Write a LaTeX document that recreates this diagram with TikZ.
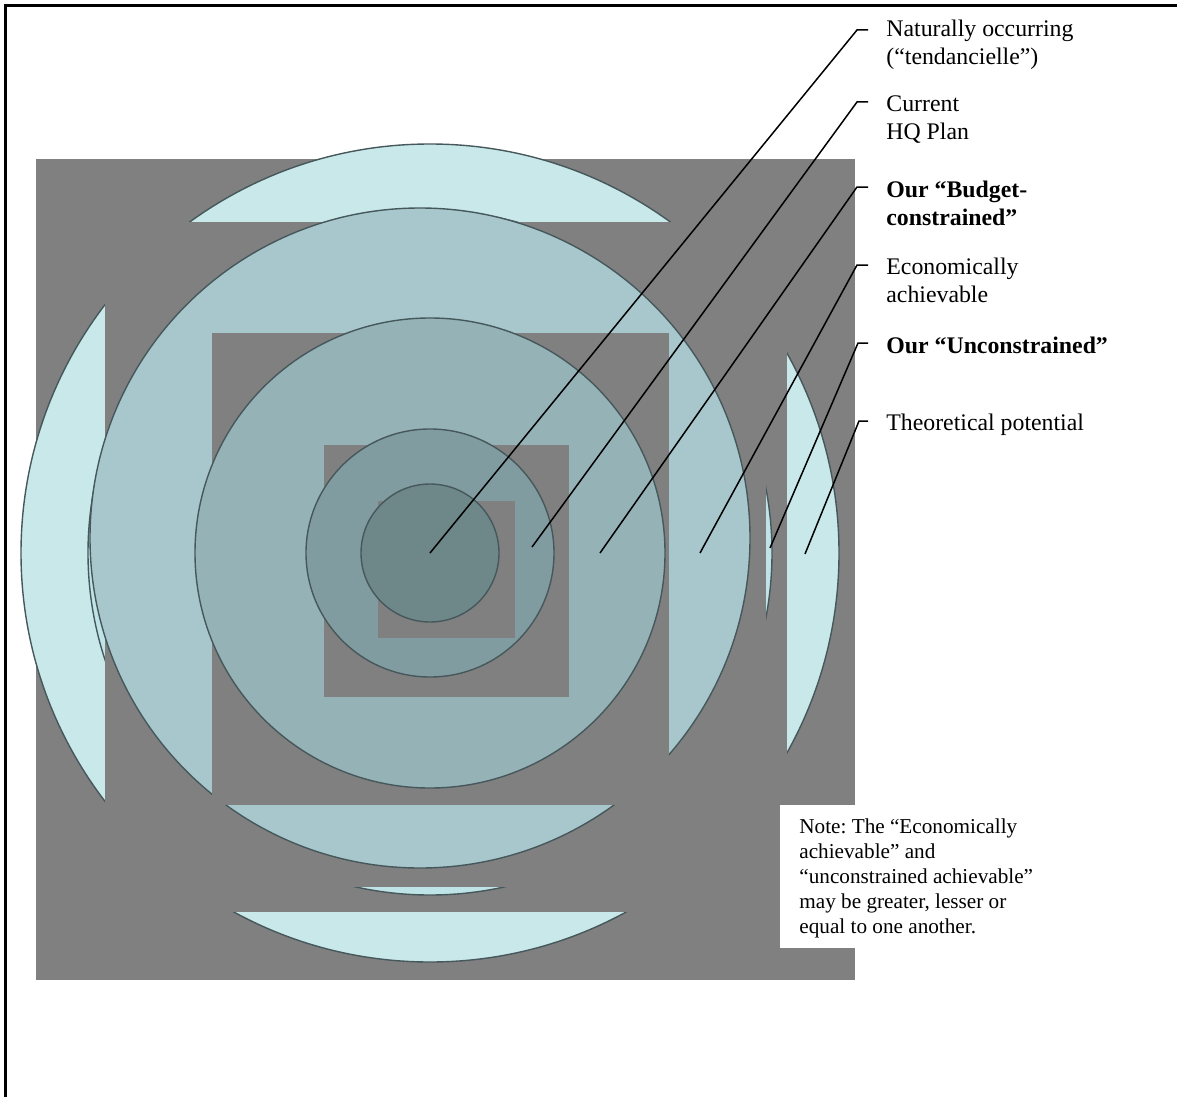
\documentclass[tikz,border=0pt]{standalone}
\usepackage{fontspec}
\setmainfont{Liberation Serif}
\frenchspacing
\definecolor{bggray}{HTML}{808080}
\definecolor{ringA}{HTML}{C8E8EA}
\definecolor{ringB}{HTML}{BFE4E7}
\definecolor{ringC}{HTML}{A7C7CC}
\definecolor{ringD}{HTML}{95B2B6}
\definecolor{ringE}{HTML}{809CA0}
\definecolor{ringF}{HTML}{6E8789}
\definecolor{ringedge}{HTML}{46585B}
\begin{document}
\begin{tikzpicture}[x=0.5pt,y=-0.5pt,
  ring/.style={draw=ringedge,line width=0.7pt},
  mask/.style={fill=bggray,draw=none},
  leader/.style={draw=black,line width=0.75pt},
  lbl/.style={anchor=base west,inner sep=0pt,font=\fontsize{11.9}{14}\selectfont},
  notetxt/.style={anchor=base west,inner sep=0pt,font=\fontsize{10.6}{12.5}\selectfont}]
\useasboundingbox (0,0) rectangle (1177,1097);
\fill[white] (0,0) rectangle (1177,1097);
% frame (only top and left edges visible)
\draw[line width=1.35pt] (5.3,1097) -- (5.3,5.3) -- (1177,5.3);
% background square
\fill[bggray] (36,159) rectangle (855,980);
% Theoretical potential
\draw[ring,fill=ringA] (430,553) circle[radius=204.5pt];
\path[mask] (105,222) rectangle (787,912);
% Our unconstrained
\draw[ring,fill=ringB] (430,553) circle[radius=171pt];
\path[mask] (105,222) rectangle (766,887);
% Economically achievable
\draw[ring,fill=ringC] (420,538) circle[radius=165pt];
\path[mask] (212,333) rectangle (669,805);
% Budget-constrained
\draw[ring,fill=ringD] (430,553) circle[radius=117.5pt];
\path[mask] (324,445) rectangle (569,697);
% Current HQ plan
\draw[ring,fill=ringE] (430,553) circle[radius=62pt];
\path[mask] (378,501) rectangle (515,638);
% Naturally occurring
\draw[ring,fill=ringF] (430,553) circle[radius=34.5pt];
% leader end points
\coordinate (p1) at (430,553);
\coordinate (p2) at (532,547);
\coordinate (p3) at (600,553);
\coordinate (p4) at (700,553);
\coordinate (p5) at (770,548);
\coordinate (p6) at (805,554);
\coordinate (h1) at (857,30);  \coordinate (k1) at (868,30);
\coordinate (h2) at (857,102); \coordinate (k2) at (868,102);
\coordinate (h3) at (857,187); \coordinate (k3) at (868,187);
\coordinate (h4) at (857,265); \coordinate (k4) at (868,265);
\coordinate (h5) at (858,343); \coordinate (k5) at (868,343);
\coordinate (h6) at (859,421); \coordinate (k6) at (868,421);
\draw[leader] (p1) -- (h1) -- (k1);
\draw[leader] (p2) -- (h2) -- (k2);
\draw[leader] (p3) -- (h3) -- (k3);
\draw[leader] (p4) -- (h4) -- (k4);
\draw[leader] (p5) -- (h5) -- (k5);
\draw[leader] (p6) -- (h6) -- (k6);
% labels
\node[lbl] (t1) at (886,37) {\begin{tabular}[t]{@{}l@{}}Naturally occurring\\(“tendancielle”)\end{tabular}};
\node[lbl] (t2) at (886,112) {\begin{tabular}[t]{@{}l@{}}Current\\HQ Plan\end{tabular}};
\node[lbl] (t3) at (886,197) {\begin{tabular}[t]{@{}l@{}}\bfseries Our “Budget-\\\bfseries constrained”\end{tabular}};
\node[lbl] (t4) at (886,274) {\begin{tabular}[t]{@{}l@{}}Economically\\achievable\end{tabular}};
\node[lbl] (t5) at (886,353) {\bfseries Our “Unconstrained”};
\node[lbl] (t6) at (886,430) {Theoretical potential};
% note
\fill[white] (780,805) rectangle (1040,948);
\node[notetxt] (note) at (799,833) {\begin{tabular}[t]{@{}l@{}}Note: The “Economically\\achievable” and\\“unconstrained achievable”\\may be greater, lesser or\\equal to one another.\end{tabular}};
\end{tikzpicture}
\end{document}
